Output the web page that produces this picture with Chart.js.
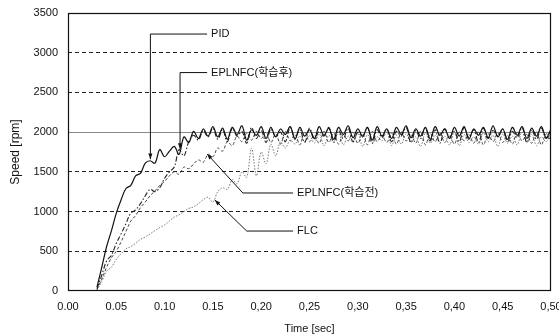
<!DOCTYPE html>
<html>
<head>
<meta charset="utf-8">
<script src="https://cdn.jsdelivr.net/npm/chart.js@4"></script>
<style>
  html, body { margin: 0; padding: 0; background: #fff; }
  #wrap { width: 559px; height: 336px; }
</style>
</head>
<body>
<div id="wrap"><canvas id="speedChart"></canvas></div>
<script>
// sampling: t = 0.030 .. 0.500 every 0.005 s
const tStart = 0.03;
const tStep = 0.005;

const pidSpeed = [
  50, 300, 560, 760, 980, 1150, 1290, 1330, 1450, 1480,
  1610, 1640, 1610, 1780, 1690, 1760, 1820, 1720, 1940, 1870,
  2010, 1920, 2040, 1950, 2070,
  1940, 2050, 1910, 2060, 1970, 2080, 1900, 2030, 1960, 2070,
  1920, 2060, 1940, 2040, 1970, 2070, 1910, 2060, 1950, 2030,
  1920, 2070, 1960, 2050, 1910, 2060, 1970, 2080, 1930, 2040,
  1950, 2060, 1900, 2070, 1950, 2040, 1920, 2060, 1970, 2080,
  1930, 2040, 1950, 2060, 1910, 2070, 1960, 2040, 1920, 2060,
  1950, 2070, 1910, 2040, 1960, 2060, 1930, 2080, 1940, 2040,
  1910, 2060, 1960, 2070, 1920, 2050, 1950, 2070, 1930, 2040
];

const eplnfcAfter = [
  30, 200, 380, 450, 600, 720, 850, 980, 1020, 1100,
  1200, 1280, 1250, 1300, 1420, 1500, 1560, 1780, 1700, 1880,
  1960, 1900, 2020, 1940, 2050,
  1910, 2030, 1880, 2050, 1950, 2010, 1860, 2060, 1920, 2020,
  1870, 2040, 1940, 2000, 1880, 2060, 1930, 2030, 1870, 2050,
  1910, 2010, 1950, 2060, 1870, 2020, 1920, 2050, 1880, 2000,
  1940, 2060, 1860, 2030, 1930, 2040, 1880, 2010, 1950, 2060,
  1870, 2020, 1920, 2050, 1890, 2030, 1860, 2040, 1940, 2010,
  1880, 2060, 1930, 2030, 1870, 2050, 1920, 2020, 1950, 2040,
  1880, 2010, 1930, 2060, 1870, 2030, 1910, 2050, 1920, 2020
];

const eplnfcBefore = [
  20, 150, 300, 420, 500, 620, 750, 880, 950, 1050,
  1120, 1200, 1260, 1330, 1380, 1450, 1500, 1470, 1560, 1540,
  1600, 1650, 1620, 1720, 1690, 1800, 1760, 1880, 1830, 1950,
  1880, 1990, 1900, 2010, 1920,
  2000, 1870, 1980, 1850, 2010, 1890, 1970, 1840, 2000, 1880,
  1960, 1860, 2010, 1870, 1990, 1850, 1970, 1890, 2000, 1860,
  1980, 1840, 2010, 1880, 1960, 1870, 1990, 1850, 2000, 1890,
  1970, 1860, 2010, 1840, 1980, 1880, 1990, 1870, 1960, 1850,
  2000, 1890, 1970, 1860, 2010, 1840, 1980, 1880, 1990, 1870,
  1960, 1850, 2000, 1890, 1970, 1860, 2010, 1840, 1980, 1880
];

const flcSpeed = [
  10, 120, 250, 300, 400, 470, 530, 560, 600, 650,
  680, 720, 760, 800, 830, 880, 930, 960, 1000, 1040,
  1060, 1100, 1150, 1180, 1120, 1250, 1300, 1280, 1400, 1350,
  1500, 1430, 1800, 1450, 1750, 1600, 1850, 1700, 1880, 1800,
  1900, 1850, 1950, 1880, 1960,
  1860, 1980, 1830, 1960, 1880, 2000, 1840, 1950, 1870, 1990,
  1820, 1970, 1860, 1940, 1890, 2000, 1830, 1960, 1850, 1980,
  1870, 1940, 1820, 1990, 1860, 1960, 1880, 1950, 1840, 2000,
  1830, 1970, 1870, 1940, 1850, 1990, 1880, 1960, 1820, 1980,
  1860, 1950, 1840, 2000, 1870, 1970, 1830, 1940, 1880, 1990
];

const xTickLabels = ['0.00', '0.05', '0.10', '0.15', '0,20', '0,25', '0,30', '0,35', '0,40', '0,45', '0,50'];
const yTicks = [0, 500, 1000, 1500, 2000, 2500, 3000, 3500];

// callouts: label, label anchor [t, rpm], elbow [t, rpm], tip [t, rpm]
const callouts = [
  { text: 'PID', label: [0.144, 3235], elbow: [0.0853, 3235], tip: [0.0853, 1660] },
  { text: 'EPLNFC(학습후)', label: [0.144, 2750], elbow: [0.1160, 2750], tip: [0.1160, 1790] },
  { text: 'EPLNFC(학습전)', label: [0.233, 1234], elbow: [0.181, 1234], tip: [0.144, 1725] },
  { text: 'FLC', label: [0.233, 755], elbow: [0.185, 755], tip: [0.152, 1146] }
];

const FONT = "'Liberation Sans', Arial, 'Noto Sans CJK KR', sans-serif";

function toPoints(values) {
  return values.map((v, i) => ({ x: tStart + i * tStep, y: v }));
}

// frame + callout arrows
const decorPlugin = {
  id: 'decor',
  afterDatasetsDraw(chart) {
    const { ctx, chartArea: a, scales: { x, y } } = chart;
    ctx.save();
    ctx.strokeStyle = '#111';
    ctx.lineWidth = 1.2;
    ctx.setLineDash([]);
    ctx.strokeRect(a.left + 0.5, a.top + 0.5, a.right - a.left - 1, a.bottom - a.top - 1);

    ctx.font = '11px ' + FONT;
    ctx.textBaseline = 'middle';
    ctx.fillStyle = '#111';
    ctx.lineWidth = 1;
    callouts.forEach(c => {
      const lx = x.getPixelForValue(c.label[0]), ly = y.getPixelForValue(c.label[1]);
      const ex = x.getPixelForValue(c.elbow[0]), ey = y.getPixelForValue(c.elbow[1]);
      const tx = x.getPixelForValue(c.tip[0]), ty = y.getPixelForValue(c.tip[1]);
      ctx.beginPath();
      ctx.moveTo(lx, ly);
      ctx.lineTo(ex, ey);
      ctx.lineTo(tx, ty);
      ctx.stroke();
      // small arrowhead
      const ang = Math.atan2(ty - ey, tx - ex);
      ctx.beginPath();
      ctx.moveTo(tx, ty);
      ctx.lineTo(tx - 6 * Math.cos(ang - 0.35), ty - 6 * Math.sin(ang - 0.35));
      ctx.lineTo(tx - 6 * Math.cos(ang + 0.35), ty - 6 * Math.sin(ang + 0.35));
      ctx.closePath();
      ctx.fill();
      ctx.textAlign = 'left';
      ctx.fillText(c.text, lx + 4, ly);
    });
    ctx.restore();
  }
};

new Chart(document.getElementById('speedChart'), {
  type: 'line',
  data: {
    datasets: [
      { label: 'PID', data: toPoints(pidSpeed), borderColor: '#111', borderWidth: 1.2 },
      { label: 'EPLNFC(학습후)', data: toPoints(eplnfcAfter), borderColor: '#222', borderWidth: 1.1, borderDash: [5, 2, 1.5, 2] },
      { label: 'EPLNFC(학습전)', data: toPoints(eplnfcBefore), borderColor: '#444', borderWidth: 1, borderDash: [3, 2] },
      { label: 'FLC', data: toPoints(flcSpeed), borderColor: '#777', borderWidth: 1, borderDash: [1.5, 1.5] }
    ]
  },
  options: {
    responsive: true,
    maintainAspectRatio: false,
    animation: false,
    elements: { point: { radius: 0 }, line: { tension: 0.35 } },
    layout: { padding: { left: 0, right: 8, top: 13, bottom: 0 } },
    plugins: { legend: { display: false }, tooltip: { enabled: false } },
    scales: {
      x: {
        type: 'linear',
        min: 0,
        max: 0.5,
        afterBuildTicks(scale) {
          scale.ticks = xTickLabels.map((_, i) => ({ value: i * 0.05 }));
        },
        afterFit(scale) {
          scale.height = 45;
          scale.paddingLeft = 0;
          scale.paddingRight = 0;
        },
        grid: { display: false, drawTicks: false },
        border: { display: false },
        ticks: {
          color: '#111',
          padding: 9,
          maxRotation: 0,
          autoSkip: false,
          font: { family: FONT, size: 11 },
          callback: (v, i) => xTickLabels[i]
        },
        title: {
          display: true,
          text: 'Time [sec]',
          color: '#111',
          padding: { top: 3, bottom: 0 },
          font: { family: FONT, size: 11 }
        }
      },
      y: {
        min: 0,
        max: 3500,
        afterBuildTicks(scale) {
          scale.ticks = yTicks.map(v => ({ value: v }));
        },
        afterFit(scale) {
          scale.width = 68;
          scale.paddingTop = 0;
          scale.paddingBottom = 0;
        },
        grid: {
          drawTicks: false,
          lineWidth: 1,
          color: c => {
            const v = c.tick && c.tick.value;
            if (v === 0 || v === 3500) return 'rgba(0,0,0,0)';
            return v === 2000 ? '#888' : '#222';
          }
        },
        border: {
          display: false,
          dash: c => (c.tick && c.tick.value === 2000) ? [] : [4, 3]
        },
        ticks: {
          color: '#111',
          padding: 10,
          font: { family: FONT, size: 11 },
          callback: v => String(v)
        },
        title: {
          display: true,
          text: 'Speed [rpm]',
          color: '#111',
          padding: { top: 8, bottom: 2 },
          font: { family: FONT, size: 12 }
        }
      }
    }
  },
  plugins: [decorPlugin]
});
</script>
</body>
</html>
